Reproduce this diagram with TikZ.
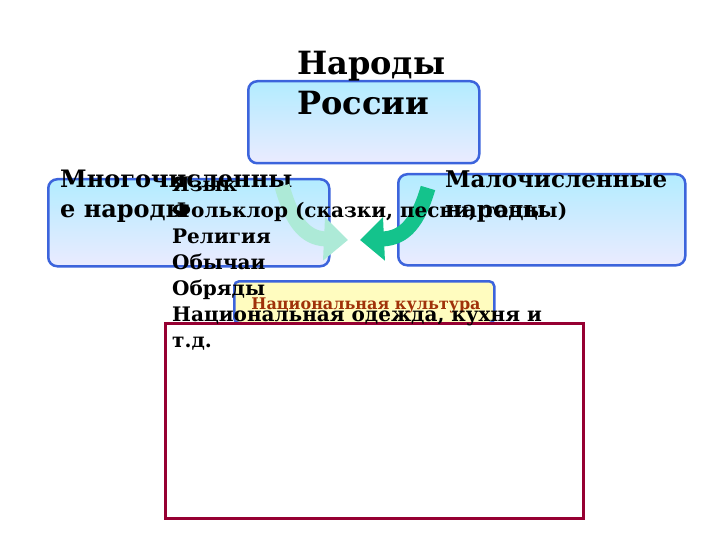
\documentclass[tikz,border=0pt]{standalone}
\usepackage{fontspec}
\setmainfont{DejaVu Serif}
\usetikzlibrary{arrows.meta}
\definecolor{bord}{RGB}{60,100,220}
\definecolor{arr}{RGB}{20,195,140}
\definecolor{redb}{RGB}{150,0,50}
\definecolor{cult}{RGB}{160,50,10}
\begin{document}
\begin{tikzpicture}[x=1pt,y=-1pt,
  bluebox/.style={draw=bord,line width=2.5pt,rounded corners=9pt,top color=blue!25!cyan!30!white,bottom color=blue!8!white},
  txt/.style={font=\bfseries,align=left,anchor=base west,inner sep=0pt}]
\useasboundingbox (0,0) rectangle (720,540);
\node[bluebox,minimum width=231pt,minimum height=82pt,anchor=north west] (top) at (247,80) {};
\node[txt,font=\bfseries\fontsize{32}{40}\selectfont] (toptxt) at (297,115) {Народы\\России};
\node[bluebox,minimum width=281pt,minimum height=87pt,anchor=north west] (left) at (47,178) {};
\node[txt,font=\bfseries\fontsize{24}{30}\selectfont] (lefttxt) at (60,218) {Многочисленны\\е народы};
\node[bluebox,minimum width=287pt,minimum height=91pt,anchor=north west] (right) at (397,173) {};
\node[txt,font=\bfseries\fontsize{23}{30}\selectfont] (righttxt) at (445,218) {Малочисленные\\народы};
\draw[line width=15pt,arr!35,-{Triangle[width=42pt,length=24pt]}] (282,186) .. controls (292,222) and (305,238) .. (348,240);
\draw[line width=15pt,arr,-{Triangle[width=42pt,length=24pt]}] (428,188) .. controls (418,222) and (405,238) .. (360,240);
\node[draw=bord,line width=2.5pt,rounded corners=5pt,fill=yellow!25,minimum width=260pt,minimum height=42pt,anchor=north west] (cult) at (233,280) {};
\node[font=\bfseries\fontsize{16}{18}\selectfont,text=cult,anchor=base] (culttxt) at (366,309) {Национальная культура};
\node[draw=redb,line width=3pt,fill=white,minimum width=418pt,minimum height=195pt,anchor=north west] (list) at (164,322) {};
\node[txt,font=\bfseries\fontsize{20}{26}\selectfont] (listtxt) at (172,347) {Язык\\Фольклор (сказки, песни, танцы)\\Религия\\Обычаи\\Обряды\\Национальная одежда, кухня и\\т.д.};
\end{tikzpicture}
\end{document}
